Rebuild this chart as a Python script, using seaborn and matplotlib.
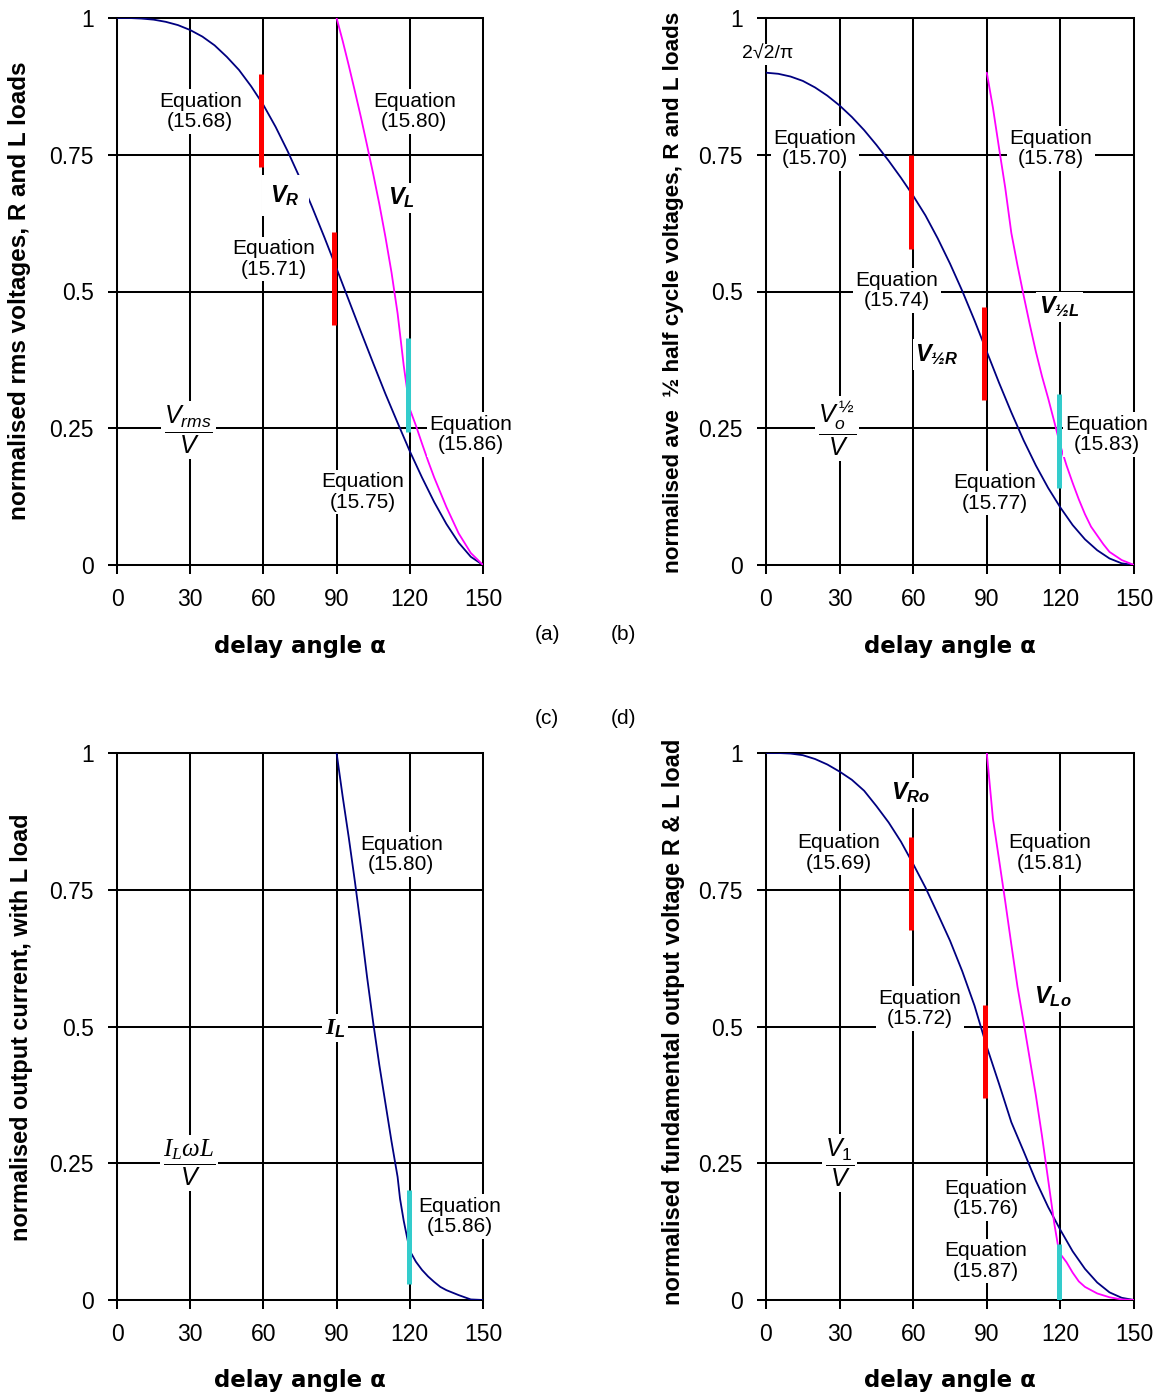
import matplotlib
matplotlib.use("Agg")
import matplotlib.pyplot as plt
import pandas as pd
import seaborn as sns

# ---------------------------------------------------------------- data
# delay angle grid for the full-range R-load curves
alpha_full = [0, 5, 10, 15, 20, 25, 30, 35, 40, 45, 50, 55, 60, 65, 70, 75,
              80, 85, 90, 95, 100, 105, 110, 115, 120, 125, 130, 135, 140, 145, 150]

# (a) normalised rms voltages
rms_R = [1.000, 1.000, 0.999, 0.997, 0.993, 0.987, 0.978, 0.966, 0.950, 0.929,
         0.905, 0.875, 0.841, 0.801, 0.756, 0.707, 0.654, 0.599, 0.542, 0.484,
         0.426, 0.369, 0.313, 0.260, 0.208, 0.160, 0.115, 0.075, 0.041, 0.015, 0.000]
alpha_rms_L = [90, 92.5, 95, 97.5, 100, 102.5, 105, 107.5, 110, 112.5, 115, 117.5,
               120, 122.5, 125, 127.5, 130, 135, 140, 145, 150]
rms_L = [1.000, 0.958, 0.913, 0.866, 0.818, 0.767, 0.715, 0.660, 0.600, 0.535,
         0.460, 0.365, 0.285, 0.255, 0.222, 0.190, 0.160, 0.106, 0.058, 0.022, 0.000]

# (b) normalised average half-cycle voltages
half_R = [0.900, 0.898, 0.893, 0.885, 0.873, 0.858, 0.840, 0.819, 0.795, 0.768,
          0.739, 0.708, 0.675, 0.639, 0.597, 0.551, 0.501, 0.447, 0.390, 0.333,
          0.279, 0.228, 0.182, 0.141, 0.105, 0.073, 0.047, 0.027, 0.012, 0.003, 0.000]
alpha_half_L = [90, 92.5, 95, 97.5, 100, 102.5, 105, 107.5, 110, 112.5, 115, 117.5,
                120, 122.5, 125, 127.5, 130, 132.5, 135, 137.5, 140, 145, 150]
half_L = [0.900, 0.836, 0.762, 0.690, 0.607, 0.548, 0.493, 0.440, 0.390, 0.345,
          0.305, 0.262, 0.218, 0.182, 0.150, 0.120, 0.093, 0.070, 0.054, 0.038,
          0.024, 0.009, 0.000]

# (c) normalised output current, L load
alpha_cur = [90, 92.5, 95, 97.5, 100, 102.5, 105, 107.5, 110, 112.5, 115, 116,
             117.5, 120, 122.5, 125, 127.5, 130, 132.5, 135, 140, 145, 150]
cur_L = [1.000, 0.920, 0.845, 0.765, 0.680, 0.590, 0.507, 0.430, 0.360, 0.290,
         0.225, 0.185, 0.145, 0.090, 0.070, 0.055, 0.043, 0.033, 0.024, 0.018,
         0.009, 0.001, 0.000]

# (d) normalised fundamental output voltage
fund_R = [1.000, 1.000, 0.999, 0.996, 0.989, 0.979, 0.966, 0.951, 0.931, 0.903,
          0.873, 0.838, 0.797, 0.754, 0.706, 0.657, 0.601, 0.538, 0.463, 0.395,
          0.325, 0.272, 0.218, 0.170, 0.128, 0.089, 0.057, 0.032, 0.014, 0.004, 0.000]
alpha_fund_L = [90, 92.5, 95, 97.5, 100, 102.5, 105, 107.5, 110, 112.5, 115, 117.5,
                119, 120, 122.5, 125, 127.5, 130, 135, 140, 145, 150]
fund_L = [1.000, 0.880, 0.805, 0.729, 0.650, 0.573, 0.508, 0.441, 0.374, 0.300,
          0.220, 0.140, 0.100, 0.084, 0.069, 0.050, 0.034, 0.024, 0.012, 0.005,
          0.001, 0.000]

# boundary markers between equation regions: (alpha, y_low, y_high)
marks_a = {"red": [(59.1, 0.728, 0.898), (89.1, 0.439, 0.609)], "cyan": [(119.4, 0.243, 0.415)]}
marks_b = {"red": [(59.0, 0.578, 0.750), (89.0, 0.302, 0.472)], "cyan": [(119.5, 0.141, 0.313)]}
marks_c = {"red": [], "cyan": [(119.5, 0.030, 0.201)]}
marks_d = {"red": [(59.0, 0.676, 0.847), (89.4, 0.369, 0.540)], "cyan": [(119.6, 0.000, 0.102)]}

x_ticks = [0, 30, 60, 90, 120, 150]
y_ticks = [0, 0.25, 0.5, 0.75, 1]
y_tick_labels = ["0", "0.25", "0.5", "0.75", "1"]

# ---------------------------------------------------------------- style
sns.set_style("white")
plt.rcParams["font.family"] = ["Liberation Sans", "DejaVu Sans"]
plt.rcParams["text.color"] = "black"
plt.rcParams["axes.labelcolor"] = "black"
plt.rcParams["xtick.color"] = "black"
plt.rcParams["ytick.color"] = "black"
plt.rcParams["mathtext.fontset"] = "custom"
plt.rcParams["mathtext.rm"] = "Liberation Sans"
plt.rcParams["mathtext.it"] = "Liberation Sans:italic"
plt.rcParams["mathtext.bf"] = "Liberation Sans:bold:italic"
plt.rcParams["mathtext.sf"] = "Liberation Serif:italic"
plt.rcParams["mathtext.tt"] = "Liberation Serif:bold:italic"

NAVY = "#000080"
MAGENTA = "#FF00FF"
RED = "#FF0000"
CYAN = "#33CCCC"
GRID_LW = 1.45

fig = plt.figure(figsize=(11.64, 13.96), dpi=100)
W, H = 1164.0, 1396.0


def add_panel(left, right, top, bottom):
    return fig.add_axes([left / W, 1 - bottom / H, (right - left) / W, (bottom - top) / H])


ax_a = add_panel(117, 483, 18, 565)
ax_b = add_panel(766, 1134, 18, 565)
ax_c = add_panel(117, 483, 753, 1300)
ax_d = add_panel(766, 1134, 753, 1300)

BOX = dict(boxstyle="square,pad=0.12", fc="white", ec="none")


def style_axes(ax):
    ax.set_xlim(0, 150)
    ax.set_ylim(0, 1)
    ax.set_xticks(x_ticks)
    ax.set_yticks(y_ticks)
    ax.set_yticklabels(y_tick_labels)
    ax.grid(True, color="black", lw=GRID_LW)
    ax.set_axisbelow(True)
    for sp in ax.spines.values():
        sp.set_visible(True)
        sp.set_color("black")
        sp.set_linewidth(GRID_LW)
    ax.tick_params(direction="out", length=6.5, width=GRID_LW, color="black",
                   labelcolor="black", labelsize=16.5, pad=10, left=True, bottom=True)
    ax.set_xlabel("")
    ax.set_ylabel("")


def curve(ax, xs, ys, color):
    df = pd.DataFrame({"alpha": xs, "v": ys})
    sns.lineplot(data=df, x="alpha", y="v", ax=ax, color=color, lw=1.3,
                 sort=False, zorder=3)


def markers(ax, marks):
    for a, lo, hi in marks["red"]:
        ax.vlines(a, lo, hi, color=RED, lw=3.6, zorder=4)
    for a, lo, hi in marks["cyan"]:
        ax.vlines(a, lo, hi, color=CYAN, lw=3.6, zorder=4)


def eq(ax, x, y, num):
    ax.text(x, y, "Equation\n(" + num + ")", ha="center", va="center",
            fontsize=15, linespacing=1.1, bbox=BOX, zorder=6)


def sym(ax, x, y, s, size=17, pad=0.12):
    ax.text(x, y, s, ha="center", va="center", fontsize=size,
            bbox=dict(boxstyle="square,pad=%g" % pad, fc="white", ec="none"), zorder=6)


# ---------------------------------------------------------------- (a)
curve(ax_a, alpha_full, rms_R, NAVY)
curve(ax_a, alpha_rms_L, rms_L, MAGENTA)
markers(ax_a, marks_a)
style_axes(ax_a)
eq(ax_a, 34.1, 0.829, "15.68")
eq(ax_a, 121.8, 0.829, "15.80")
eq(ax_a, 64.2, 0.559, "15.71")
eq(ax_a, 144.9, 0.239, "15.86")
eq(ax_a, 100.8, 0.133, "15.75")
sym(ax_a, 69.0, 0.675, r"$\mathbf{V_R}$", pad=0.35)
sym(ax_a, 116.5, 0.671, r"$\mathbf{V_L}$")
sym(ax_a, 29.2, 0.246, r"$\dfrac{V_{rms}}{V}$", size=18)

# ---------------------------------------------------------------- (b)
curve(ax_b, alpha_full, half_R, NAVY)
curve(ax_b, alpha_half_L, half_L, MAGENTA)
markers(ax_b, marks_b)
style_axes(ax_b)
eq(ax_b, 20.0, 0.761, "15.70")
eq(ax_b, 116.1, 0.761, "15.78")
eq(ax_b, 53.4, 0.502, "15.74")
eq(ax_b, 138.9, 0.239, "15.83")
eq(ax_b, 93.1, 0.132, "15.77")
sym(ax_b, 119.6, 0.472, r"$\mathbf{V_{½L}}$")
sym(ax_b, 69.8, 0.385, r"$\mathbf{V_{½R}}$")
sym(ax_b, 29.1, 0.25, r"$\dfrac{V_{o}^{\,½}}{V}$", size=18)
ax_b.text(0.5, 0.933, "2√2/π", ha="center", va="center", fontsize=14,
          bbox=BOX, zorder=7, clip_on=False)

# ---------------------------------------------------------------- (c)
curve(ax_c, alpha_cur, cur_L, NAVY)
markers(ax_c, marks_c)
style_axes(ax_c)
eq(ax_c, 116.5, 0.814, "15.80")
eq(ax_c, 140.6, 0.153, "15.86")
sym(ax_c, 89.3, 0.497, r"$\mathtt{I}_{\mathbf{L}}$")
sym(ax_c, 29.6, 0.25, r"$\dfrac{\mathsf{I_L\omega L}}{V}$", size=18)

# ---------------------------------------------------------------- (d)
curve(ax_d, alpha_full, fund_R, NAVY)
curve(ax_d, alpha_fund_L, fund_L, MAGENTA)
markers(ax_d, marks_d)
style_axes(ax_d)
eq(ax_d, 29.8, 0.817, "15.69")
eq(ax_d, 115.5, 0.817, "15.81")
eq(ax_d, 62.6, 0.533, "15.72")
eq(ax_d, 89.7, 0.186, "15.76")
eq(ax_d, 89.7, 0.071, "15.87")
sym(ax_d, 58.8, 0.927, r"$\mathbf{V_{Ro}}$")
sym(ax_d, 117.0, 0.554, r"$\mathbf{V_{Lo}}$")
sym(ax_d, 29.8, 0.25, r"$\dfrac{V_1}{V}$", size=18)

# ---------------------------------------------------------------- axis titles and panel tags
ylab_kw = dict(rotation=90, ha="center", va="center", fontweight="bold")
fig.text(20 / W, 1 - 291 / H, "normalised rms voltages, R and L loads",
         fontsize=17.5, **ylab_kw)
fig.text(673 / W, 1 - 292 / H, "normalised ave  ½ half cycle voltages, R and L loads",
         fontsize=16.2, **ylab_kw)
fig.text(22 / W, 1 - 1027 / H, "normalised output current, with L load",
         fontsize=16.9, **ylab_kw)
fig.text(673 / W, 1 - 1022 / H, "normalised fundamental output voltage R & L load",
         fontsize=17.0, **ylab_kw)

xlab_kw = dict(ha="center", va="center", fontsize=16.5, fontweight="bold",
               family="DejaVu Sans")
for cx, cy in [(300, 647), (950, 647), (300, 1381), (950, 1381)]:
    fig.text(cx / W, 1 - cy / H, "delay angle α", **xlab_kw)

for tag, cx, cy in [("(a)", 547, 635), ("(b)", 623, 635), ("(c)", 547, 718), ("(d)", 623, 718)]:
    fig.text(cx / W, 1 - cy / H, tag, ha="center", va="center", fontsize=15)

fig.savefig("out.png", dpi=100)
